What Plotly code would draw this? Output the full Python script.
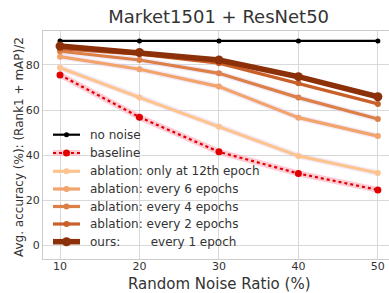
import plotly.graph_objects as go

x = [10, 20, 30, 40, 50]
no_noise = [90.7, 90.7, 90.7, 90.7, 90.7]
baseline = [75.6, 56.8, 41.4, 31.8, 24.5]
abl_12 = [78.8, 65.5, 52.6, 39.6, 32.0]
abl_6 = [83.7, 78.1, 70.4, 56.6, 48.4]
abl_4 = [86.1, 82.2, 76.3, 65.5, 56.0]
abl_2 = [87.3, 84.8, 80.8, 71.9, 62.7]
ours = [88.4, 85.6, 82.2, 74.8, 65.9]

names = ["no noise", "baseline", "ablation: only at 12th epoch", "ablation: every 6 epochs",
         "ablation: every 4 epochs", "ablation: every 2 epochs",
         "ours:\u00a0\u00a0\u00a0\u00a0\u00a0\u00a0\u00a0\u00a0every 1 epoch"]

W, H = 389, 293
L, R, T, B = 43, 389, 31, 259


def px(X):
    return (X - L) / (R - L)


def py(Y):
    return (B - Y) / (B - T)


fig = go.Figure()

# halos
fig.add_trace(go.Scatter(x=x, y=baseline, mode="lines", line=dict(color="rgba(255,170,185,0.6)", width=6),
                         showlegend=False, hoverinfo="skip"))
for ys in [abl_12, abl_6, abl_4]:
    fig.add_trace(go.Scatter(x=x, y=ys, mode="lines", line=dict(color="rgba(200,180,240,0.25)", width=6),
                             showlegend=False, hoverinfo="skip"))

styles = [
    (no_noise, "black", 2.2, 5, "solid"),
    (baseline, "#e00000", 2.2, 7, "dot"),
    (abl_12, "#fdc48f", 3.2, 6, "solid"),
    (abl_6, "#f2a46c", 3.2, 6, "solid"),
    (abl_4, "#dc8048", 3.2, 6, "solid"),
    (abl_2, "#c9602a", 3.2, 6, "solid"),
    (ours, "#8b3008", 5.5, 9, "solid"),
]
for i, (ys, c, w, s, d) in enumerate(styles):
    fig.add_trace(go.Scatter(x=x, y=ys, name=names[i], mode="lines+markers", showlegend=False,
                             line=dict(color=c, width=w, dash=d), marker=dict(size=s, color=c)))

# manual legend (layout, not data)
shapes = []
annotations = []
row_y = [134.7, 153, 171.3, 189, 206.5, 224, 241.7]
for i, (ys, c, w, s, d) in enumerate(styles):
    yy = py(row_y[i])
    dash = "dot" if d == "dot" else "solid"
    if d == "dot":
        shapes.append(dict(type="line", xref="paper", yref="paper", x0=px(53), x1=px(80), y0=yy, y1=yy,
                           line=dict(color="rgba(255,170,185,0.6)", width=6)))
    shapes.append(dict(type="line", xref="paper", yref="paper", x0=px(53), x1=px(80), y0=yy, y1=yy,
                       line=dict(color=c, width=w, dash=dash)))
    shapes.append(dict(type="circle", xref="paper", yref="paper", xsizemode="pixel", ysizemode="pixel",
                       xanchor=px(66.5), yanchor=yy, x0=-s / 2, x1=s / 2, y0=-s / 2, y1=s / 2,
                       fillcolor=c, line=dict(width=0)))
    annotations.append(dict(text=names[i], xref="paper", yref="paper", x=px(88), y=yy,
                            xanchor="left", yanchor="middle", showarrow=False,
                            font=dict(family="DejaVu Sans", size=12, color="#333333")))

annotations.append(dict(text="Avg. accuracy (%): (Rank1 + mAP)/2", xref="paper", yref="paper",
                        x=px(19), y=py(147), xanchor="center", yanchor="middle", textangle=-90,
                        showarrow=False, font=dict(family="DejaVu Sans", size=12, color="#333333")))
annotations.append(dict(text="Random Noise Ratio (%)", xref="paper", yref="paper",
                        x=px(218.5), y=py(284), xanchor="center", yanchor="middle",
                        showarrow=False, font=dict(family="DejaVu Sans", size=15, color="#333333")))

axis_common = dict(showgrid=True, gridcolor="#d9d9d9", gridwidth=1, showline=True, linecolor="#cccccc",
                   linewidth=1, mirror=True, zeroline=False, ticks="",
                   tickfont=dict(family="DejaVu Sans", size=11, color="#333333"))

fig.update_layout(
    width=W, height=H,
    margin=dict(l=L, r=W - R, t=T, b=H - B),
    paper_bgcolor="white", plot_bgcolor="white",
    title=dict(text="Market1501 + ResNet50", x=0.562, xanchor="center", y=1 - 17 / H, yanchor="middle",
               font=dict(family="DejaVu Sans", size=18, color="#333333")),
    xaxis=dict(range=[7.86, 51.4], tickvals=[10, 20, 30, 40, 50], ticklabelstandoff=-3, **axis_common),
    yaxis=dict(range=[-6.2, 95.1], tickvals=[0, 20, 40, 60, 80], **axis_common),
    shapes=shapes,
    annotations=annotations,
    showlegend=False,
)

fig.write_html("out.html", config={"displayModeBar": False},
               post_script="document.body.style.margin='0';")
